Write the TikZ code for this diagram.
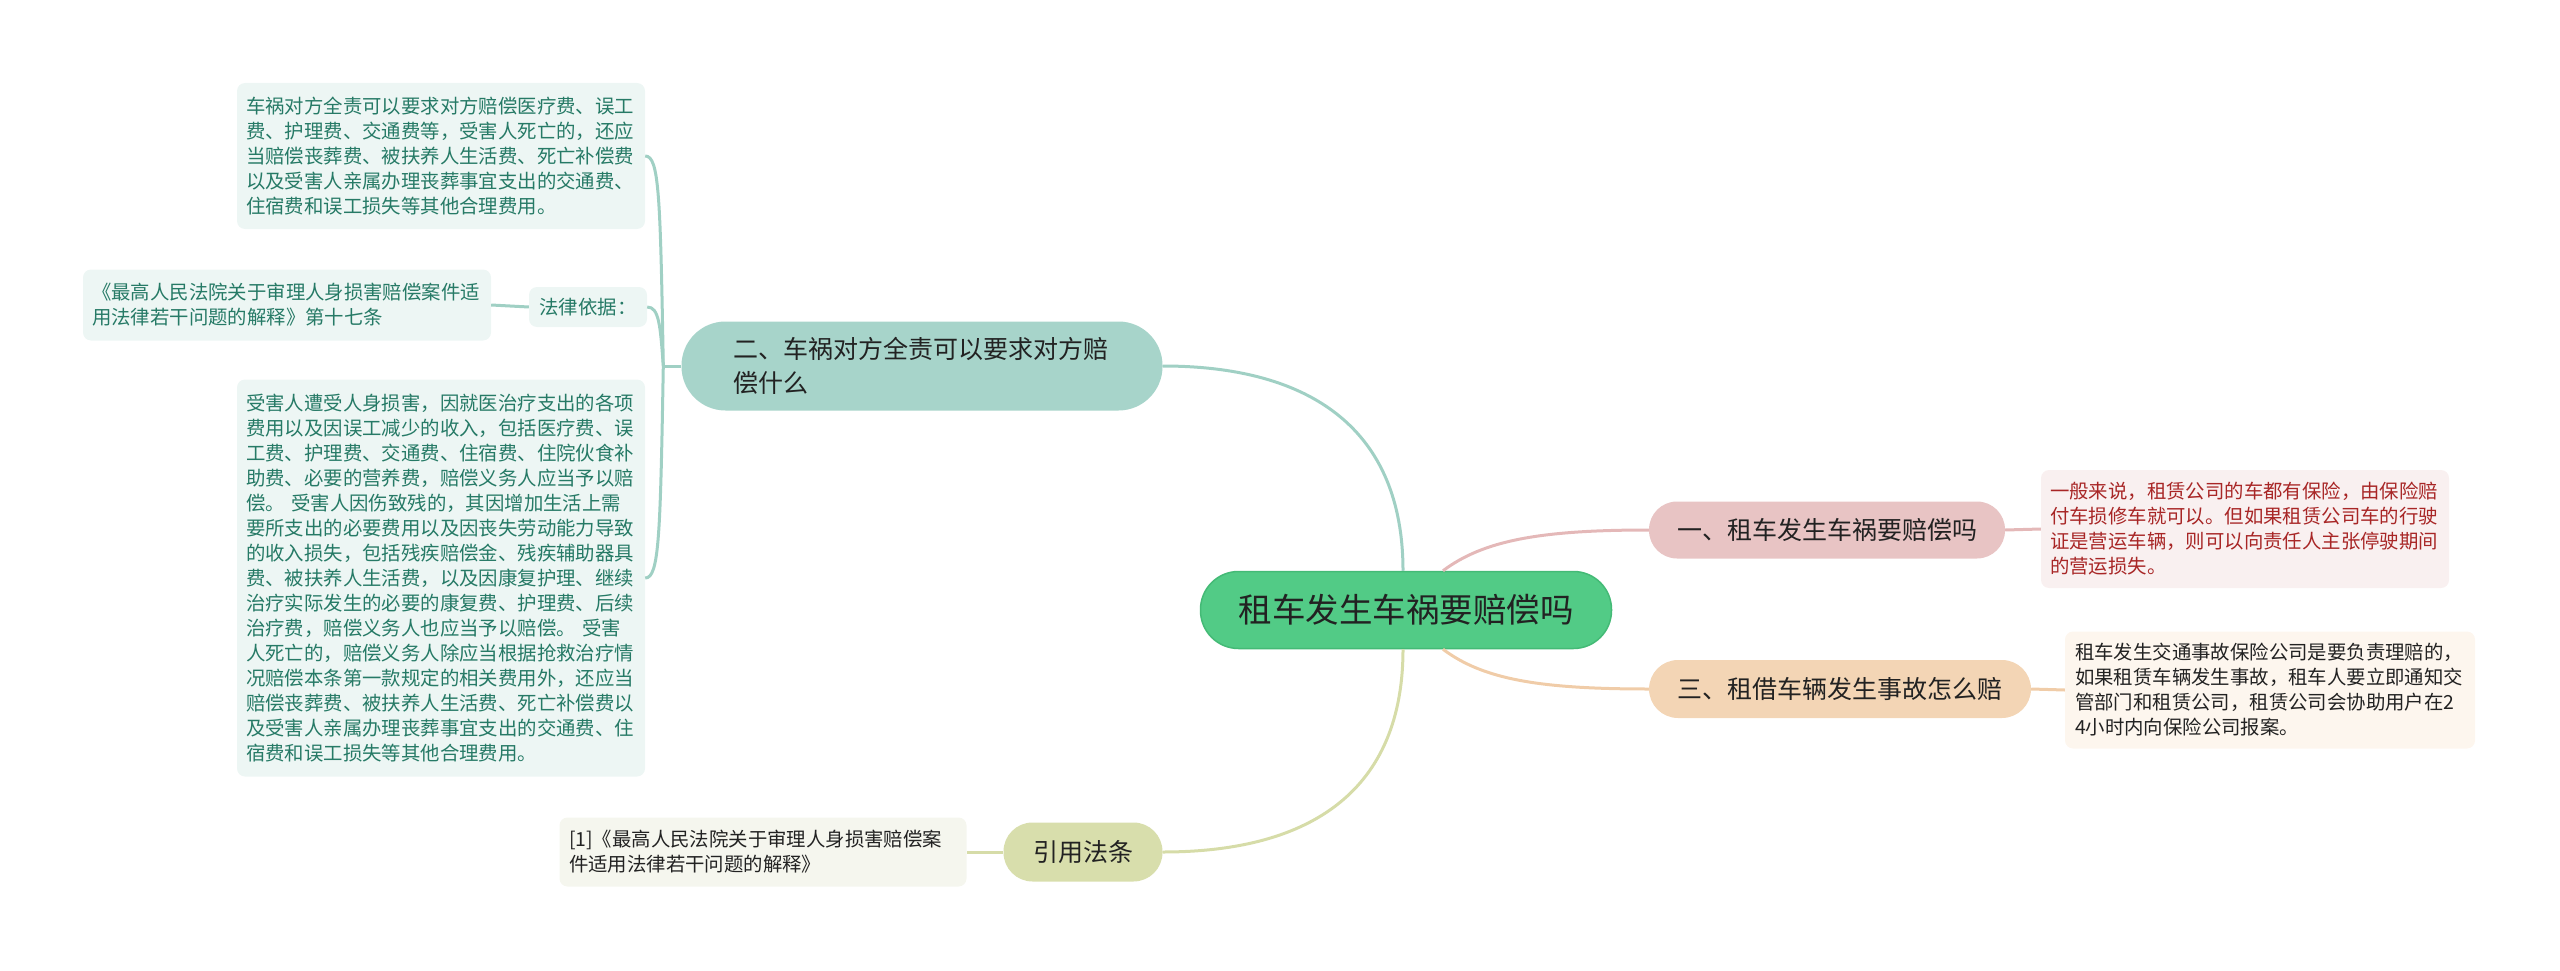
\documentclass[tikz,border=0pt]{standalone}
\usepackage{fontspec}
\setmainfont{Noto Sans CJK SC}
\usepackage{xcolor}
\definecolor{rootfill}{RGB}{82,203,134}
\definecolor{rootdraw}{RGB}{68,186,118}
\definecolor{darktext}{RGB}{34,34,34}
\definecolor{tealfill}{RGB}{167,212,202}
\definecolor{pinkfill}{RGB}{232,196,196}
\definecolor{orangefill}{RGB}{243,213,181}
\definecolor{olivefill}{RGB}{216,222,172}
\definecolor{tealleaf}{RGB}{237,246,244}
\definecolor{pinkleaf}{RGB}{249,240,240}
\definecolor{orangeleaf}{RGB}{253,246,238}
\definecolor{oliveleaf}{RGB}{245,246,238}
\definecolor{tealtext}{RGB}{38,122,102}
\definecolor{pinktext}{RGB}{168,38,38}
\definecolor{tealline}{RGB}{160,208,196}
\definecolor{pinkline}{RGB}{228,184,184}
\definecolor{orangeline}{RGB}{240,204,168}
\definecolor{oliveline}{RGB}{214,220,168}

\begin{document}
\begin{tikzpicture}[x=1pt,y=-1pt]
        \tikzstyle{every node}+=[inner sep=0pt]
        \tikzstyle{root}=[fill=rootfill, draw=rootdraw, line width=1.5pt, rounded corners=38pt, minimum width=411pt, minimum height=77pt, text=darktext, font=\fontsize{33.5pt}{40pt}\selectfont]
        \tikzstyle{branch}=[text=darktext, font=\fontsize{25pt}{34pt}\selectfont]
        \tikzstyle{leaf}=[rounded corners=8pt, align=left, font=\fontsize{19.4pt}{25pt}\selectfont]
        \tikzstyle{link}=[line width=3pt]
        \useasboundingbox (0,0) rectangle (2560,971);
        \node [root] (root) at (1406,610) {租车发生车祸要赔偿吗};
        \node [branch, fill=tealfill, rounded corners=44pt, minimum width=481pt, minimum height=89pt, text width=378pt, align=left] (b2) at (922,366) {二、车祸对方全责可以要求对方赔\\偿什么};
        \node [branch, fill=pinkfill, rounded corners=28pt, minimum width=356pt, minimum height=57pt] (b1) at (1827,530) {一、租车发生车祸要赔偿吗};
        \node [branch, fill=orangefill, rounded corners=29pt, minimum width=382pt, minimum height=58pt] (b3) at (1840,689) {三、租借车辆发生事故怎么赔};
        \node [branch, fill=olivefill, rounded corners=29pt, minimum width=159pt, minimum height=59pt] (b4) at (1083,852) {引用法条};
        \node [leaf, fill=tealleaf, text=tealtext, minimum width=408pt, minimum height=146pt, text width=390pt] (l1) at (441,156) {车祸对方全责可以要求对方赔偿医疗费、误工\\费、护理费、交通费等，受害人死亡的，还应\\当赔偿丧葬费、被扶养人生活费、死亡补偿费\\以及受害人亲属办理丧葬事宜支出的交通费、\\住宿费和误工损失等其他合理费用。};
        \node [leaf, fill=tealleaf, text=tealtext, minimum width=118pt, minimum height=40pt] (law) at (588,307) {法律依据：};
        \node [leaf, fill=tealleaf, text=tealtext, minimum width=408pt, minimum height=71pt, text width=390pt] (l2) at (287,305) {《最高人民法院关于审理人身损害赔偿案件适\\用法律若干问题的解释》第十七条};
        \node [leaf, fill=tealleaf, text=tealtext, minimum width=408pt, minimum height=397pt, text width=390pt] (l3) at (441,578) {受害人遭受人身损害，因就医治疗支出的各项\\费用以及因误工减少的收入，包括医疗费、误\\工费、护理费、交通费、住宿费、住院伙食补\\助费、必要的营养费，赔偿义务人应当予以赔\\偿。 受害人因伤致残的，其因增加生活上需\\要所支出的必要费用以及因丧失劳动能力导致\\的收入损失，包括残疾赔偿金、残疾辅助器具\\费、被扶养人生活费，以及因康复护理、继续\\治疗实际发生的必要的康复费、护理费、后续\\治疗费，赔偿义务人也应当予以赔偿。 受害\\人死亡的，赔偿义务人除应当根据抢救治疗情\\况赔偿本条第一款规定的相关费用外，还应当\\赔偿丧葬费、被扶养人生活费、死亡补偿费以\\及受害人亲属办理丧葬事宜支出的交通费、住\\宿费和误工损失等其他合理费用。};
        \node [leaf, fill=oliveleaf, text=darktext, minimum width=407pt, minimum height=69pt, text width=388pt] (cite) at (763,852) {[1]《最高人民法院关于审理人身损害赔偿案\\件适用法律若干问题的解释》};
        \node [leaf, fill=pinkleaf, text=pinktext, minimum width=408pt, minimum height=118pt, text width=390pt] (r1) at (2245,529) {一般来说，租赁公司的车都有保险，由保险赔\\付车损修车就可以。但如果租赁公司车的行驶\\证是营运车辆，则可以向责任人主张停驶期间\\的营运损失。};
        \node [leaf, fill=orangeleaf, text=darktext, minimum width=410pt, minimum height=117pt, text width=390pt] (r3) at (2270,690) {租车发生交通事故保险公司是要负责理赔的，\\如果租赁车辆发生事故，租车人要立即通知交\\管部门和租赁公司，租赁公司会协助用户在2\\4小时内向保险公司报案。};
        \coordinate (fork) at ([xshift=-18pt]b2.west);
        \draw [link, tealline] ([xshift=-3pt]root.north) .. controls +(0,-140) and +(150,0) .. (b2.east);
        \draw [link, pinkline] ([xshift=37pt]root.north) .. controls +(40,-30) and +(-110,0) .. (b1.west);
        \draw [link, orangeline] ([xshift=37pt]root.south) .. controls +(40,30) and +(-110,0) .. (b3.west);
        \draw [link, oliveline] ([xshift=-3pt]root.south) .. controls +(0,140) and +(150,0) .. (b4.east);
        \draw [link, tealline] (b2.west) -- (fork);
        \draw [link, tealline] (fork) .. controls +(-3,-170) and +(14,0) .. (l1.east);
        \draw [link, tealline] (fork) .. controls +(-3,-40) and +(12,0) .. (law.east);
        \draw [link, tealline] (fork) .. controls +(-3,170) and +(14,0) .. (l3.east);
        \draw [link, tealline] (law.west) -- (l2.east);
        \draw [link, pinkline] (b1.east) -- (r1.west);
        \draw [link, orangeline] (b3.east) -- (r3.west);
        \draw [link, oliveline] (b4.west) -- (cite.east);
        \end{tikzpicture}
\end{document}
